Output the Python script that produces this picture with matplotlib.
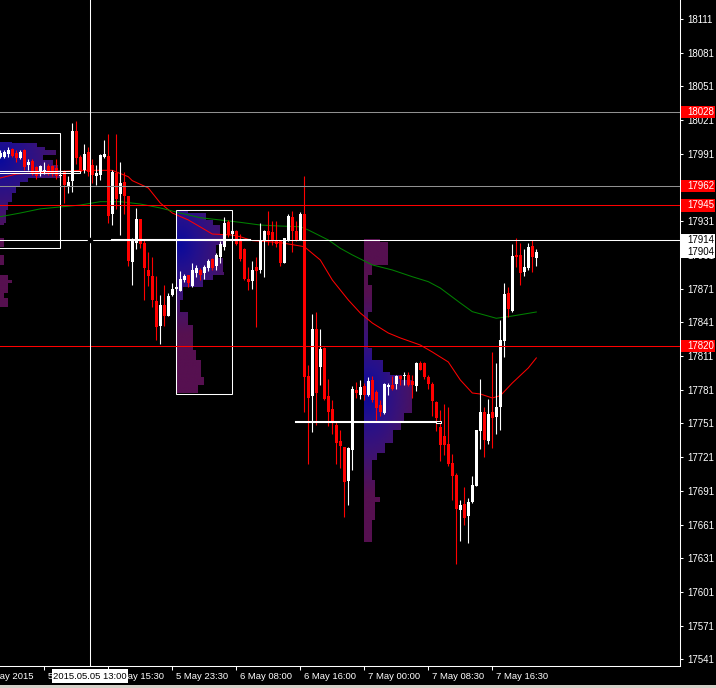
import matplotlib
matplotlib.use('Agg')
import matplotlib.pyplot as plt
import numpy as np
from matplotlib.patches import Rectangle, PathPatch
from matplotlib.path import Path
from matplotlib.colors import LinearSegmentedColormap

plt.rcParams['font.family'] = ['Liberation Sans', 'DejaVu Sans']

# 30 min candles, bar index 0 = first bar on screen
opens = [17988, 17988, 17991, 17995, 17992, 17987, 17994, 17981, 17985, 17979,
         17976, 17976, 17980, 17980, 17978, 17971, 17975, 17962, 17967, 18011,
         17988, 17977, 17993, 17981, 17971, 17972, 17988, 17989, 17937, 17974,
         17955, 17966, 17953, 17895, 17912, 17933, 17912, 17888, 17882, 17860,
         17838, 17856, 17847, 17865, 17871, 17869, 17879, 17883, 17873, 17885,
         17888, 17885, 17889, 17897, 17891, 17899, 17908, 17930, 17920, 17922,
         17913, 17906, 17880, 17878, 17890, 17888, 17913, 17922, 17921, 17914,
         17913, 17894, 17914, 17935, 17922, 17914, 17937, 17793, 17775, 17835,
         17801, 17818, 17775, 17764, 17750, 17735, 17730, 17700, 17727, 17781,
         17776, 17784, 17776, 17790, 17779, 17767, 17760, 17783, 17785, 17786,
         17793, 17793, 17794, 17789, 17784, 17805, 17805, 17792, 17786, 17770,
         17748, 17740, 17733, 17716, 17705, 17674, 17679, 17669, 17681, 17695,
         17744, 17761, 17735, 17761, 17757, 17766, 17824, 17867, 17851, 17901,
         17901, 17886, 17889, 17909, 17898]
highs = [17994, 17994, 17997, 17996, 17994, 17994, 17995, 17986, 17986, 17980,
         17981, 17984, 17982, 17981, 17986, 17977, 17977, 17971, 18018, 18020,
         17990, 18000, 17997, 17986, 17981, 17991, 18003, 18009, 17977, 18009,
         17984, 17975, 17953, 17916, 17943, 17933, 17914, 17904, 17899, 17882,
         17865, 17874, 17867, 17876, 17873, 17887, 17884, 17883, 17894, 17892,
         17889, 17892, 17897, 17898, 17903, 17913, 17935, 17932, 17924, 17923,
         17920, 17907, 17890, 17896, 17899, 17929, 17923, 17940, 17931, 17931,
         17914, 17916, 17937, 17940, 17931, 17939, 17971, 17803, 17848, 17850,
         17835, 17819, 17791, 17772, 17753, 17745, 17730, 17730, 17784, 17788,
         17790, 17787, 17792, 17793, 17781, 17772, 17787, 17787, 17793, 17794,
         17794, 17797, 17797, 17794, 17806, 17807, 17806, 17794, 17788, 17771,
         17763, 17768, 17766, 17724, 17707, 17683, 17694, 17685, 17704, 17745,
         17791, 17766, 17773, 17815, 17805, 17843, 17876, 17872, 17911, 17916,
         17912, 17906, 17912, 17914, 17906]
lows = [17987, 17987, 17988, 17988, 17984, 17986, 17977, 17977, 17972, 17969,
        17971, 17973, 17972, 17971, 17969, 17968, 17947, 17956, 17957, 17982,
        17974, 17974, 17971, 17965, 17963, 17968, 17987, 17929, 17928, 17942,
        17919, 17937, 17891, 17874, 17906, 17907, 17861, 17873, 17855, 17825,
        17822, 17838, 17847, 17864, 17870, 17869, 17877, 17872, 17872, 17881,
        17879, 17880, 17887, 17888, 17888, 17894, 17905, 17917, 17918, 17910,
        17896, 17879, 17870, 17871, 17837, 17885, 17881, 17910, 17910, 17908,
        17891, 17894, 17913, 17904, 17913, 17914, 17761, 17715, 17743, 17750,
        17785, 17772, 17749, 17742, 17715, 17711, 17668, 17678, 17710, 17774,
        17773, 17772, 17775, 17770, 17754, 17758, 17759, 17776, 17781, 17782,
        17785, 17785, 17784, 17774, 17780, 17799, 17791, 17782, 17758, 17744,
        17718, 17723, 17713, 17683, 17626, 17646, 17661, 17645, 17680, 17695,
        17728, 17721, 17733, 17729, 17742, 17745, 17810, 17846, 17850, 17890,
        17874, 17882, 17888, 17886, 17891]
closes = [17992, 17993, 17994, 17989, 17987, 17993, 17979, 17984, 17974, 17971,
          17980, 17977, 17974, 17973, 17971, 17972, 17963, 17966, 18011, 17987,
          17975, 17991, 17975, 17972, 17974, 17990, 17991, 17936, 17975, 17951,
          17965, 17953, 17896, 17915, 17933, 17911, 17889, 17882, 17861, 17837,
          17856, 17847, 17864, 17871, 17872, 17880, 17882, 17876, 17888, 17889,
          17883, 17890, 17896, 17889, 17901, 17911, 17929, 17919, 17922, 17911,
          17897, 17880, 17877, 17888, 17887, 17913, 17922, 17919, 17913, 17911,
          17894, 17916, 17936, 17922, 17913, 17937, 17792, 17774, 17835, 17778,
          17817, 17773, 17761, 17751, 17734, 17731, 17699, 17729, 17782, 17778,
          17783, 17776, 17789, 17772, 17765, 17761, 17786, 17785, 17782, 17793,
          17791, 17794, 17785, 17785, 17805, 17799, 17792, 17786, 17771, 17756,
          17732, 17732, 17715, 17704, 17675, 17678, 17667, 17681, 17696, 17745,
          17761, 17736, 17759, 17756, 17766, 17825, 17866, 17853, 17900, 17899,
          17885, 17890, 17908, 17899, 17904]

# moving averages (bar index, price)
red_ma_idx = [0, 4, 20, 24, 28, 32, 33, 37, 40, 43, 47, 50, 53, 58, 60, 63, 70, 76,
              80, 83, 87, 90, 93, 97, 100, 105, 108, 112, 115, 118, 120, 123, 125,
              128, 132, 134]
red_ma = [17969.5, 17973, 17976.3, 17976.3, 17976.3, 17970.6, 17967.1, 17960.6,
          17947.2, 17938.3, 17932.1, 17925.9, 17919.6, 17918.7, 17917.2, 17913.7,
          17912, 17908.3, 17896.5, 17878.7, 17860.9, 17849.3, 17840.4, 17831.5,
          17827.1, 17820.8, 17814.6, 17805.7, 17789.7, 17778.1, 17777.2, 17773.7,
          17775.7, 17787.0, 17800.4, 17809.3]
green_ma_idx = [0, 5, 10, 15, 20, 25, 30, 35, 40, 45, 50, 55, 60, 65, 70, 75, 77,
                82, 85, 88, 93, 98, 103, 107, 110, 115, 118, 122, 124, 128, 134]
green_ma = [17935, 17938.3, 17942, 17943.7, 17945.4, 17948.4, 17948.4, 17946.3,
            17942.8, 17938.3, 17934.1, 17932.1, 17930, 17927.6, 17926.7, 17926.1,
            17923.2, 17914.3, 17906.9, 17901, 17892.1, 17887.6, 17881.6, 17877.2,
            17871.5, 17858.2, 17850.5, 17846.6, 17844.6, 17846.6, 17850.2]

# volume profiles: left bar index, row edges (price), row widths (bars)
p1_left = -0.075
p1_edges = [18001.8, 18000.4, 17997.3, 17994.4, 17989.9, 17985.5, 17981.0, 17976.6,
            17969.2, 17966.2, 17961.7, 17955.8, 17948.4, 17941.0, 17929.1, 17927.6,
            17915.8, 17908.3, 17900.9, 17892.0, 17883.1, 17878.7, 17875.7, 17866.8,
            17862.4, 17854.9]
p1_widths = [3, 9.25, 11.25, 14, 10.75, 13.25, 14.5, 15, 7, 5, 4, 3, 2, 1.5, 1, 0,
             1, 0, 1, 0, 2, 3, 2, 1, 2]
p2_left = 44.0
p2_edges = [17940.4, 17938.0, 17932.1, 17927.6, 17918.7, 17909.8, 17898.3, 17886.1,
            17883.1, 17878.7, 17872.2, 17860.9, 17850.2, 17838.6, 17816.4, 17807.5,
            17792.3, 17785.2, 17778.1]
p2_widths = [3, 7.5, 9.25, 11, 11.75, 10, 11.75, 12, 9.25, 6.75, 1.75, 1, 2.9, 4.1,
             5, 6.25, 7, 5.5]
p3_left = 90.93
p3_edges = [17914.9, 17912.8, 17892.0, 17883.1, 17874.2, 17850.5, 17818.2, 17807.5,
            17797.1, 17794.1, 17789.7, 17767.4, 17760.3, 17752.7, 17745.2, 17733.6,
            17724.7, 17718.5, 17700.7, 17685.5, 17681.1, 17665.1, 17645.8]
p3_widths = [4, 6, 2, 1, 2, 1, 2, 4.75, 6.5, 9.5, 12, 12, 10, 9.25, 7.25, 5.25,
             3.25, 2, 2.75, 4, 2.75, 2]
# colour centre (bar, price) of each profile
p_centers = [(0, 17985), (45, 17910), (92, 17778)]
p_scales = [(20, 70), (16, 80), (14, 90)]

# value area boxes (bar from, bar to, price low, price high)
boxes = [(-2, 15.0, 17906.9, 18009.3), (44.0, 58.0, 17777.0, 17940.7)]

# horizontal levels
level_prices = [18028, 17962, 17945, 17820]
level_colors = ['#909090', '#909090', '#ff0000', '#ff0000']
hline_price = 17914
bid_price = 17904
price_ticks = list(range(17541, 18112, 30))

time_ticks = [-5, 11, 27, 43, 59, 75, 91, 107, 123]
time_labels = ['4 May 2015', '5 May 07:30', '5 May 15:30', '5 May 23:30', '6 May 08:00',
               '6 May 16:00', '7 May 00:00', '7 May 08:30', '7 May 16:30']
cross_bar = 22.4
cross_label = '2015.05.05 13:00'

vp_cmap = LinearSegmentedColormap.from_list(
    'vp', ['#0a0a9c', '#22108e', '#36127c', '#461266', '#561050'])

fig = plt.figure(figsize=(7.16, 6.88), dpi=100, facecolor='black')
ax = fig.add_axes([0, 22 / 688, 680 / 716, 666 / 688])
ax.set_facecolor('black')


def draw_profile(left, edges, widths, center, scale):
    verts, codes = [], []
    for top, bot, w in zip(edges[:-1], edges[1:], widths):
        if w <= 0:
            continue
        verts += [(left, bot), (left + w, bot), (left + w, top), (left, top), (left, bot)]
        codes += [Path.MOVETO, Path.LINETO, Path.LINETO, Path.LINETO, Path.CLOSEPOLY]
    clip = PathPatch(Path(verts, codes), transform=ax.transData, facecolor='none',
                     edgecolor='none')
    ax.add_patch(clip)
    kk = np.linspace(left, left + max(widths), 150)
    pp = np.linspace(min(edges), max(edges), 250)
    K, P = np.meshgrid(kk, pp)
    t = np.clip(np.hypot((K - center[0]) / scale[0], (P - center[1]) / scale[1]), 0, 1)
    img = ax.imshow(vp_cmap(t), extent=[kk[0], kk[-1], pp[0], pp[-1]], origin='lower',
                    aspect='auto', interpolation='bilinear', zorder=1)
    img.set_clip_path(clip)


draw_profile(p1_left, p1_edges, p1_widths, p_centers[0], p_scales[0])
draw_profile(p2_left, p2_edges, p2_widths, p_centers[1], p_scales[1])
draw_profile(p3_left, p3_edges, p3_widths, p_centers[2], p_scales[2])

for k0, k1, lo, hi in boxes:
    ax.add_patch(Rectangle((k0, lo), k1 - k0, hi - lo, fill=False, edgecolor='white',
                           linewidth=0.75, zorder=4))

# moving averages
ax.plot(red_ma_idx, red_ma, color='#ff0000', linewidth=0.75, zorder=2)
ax.plot(green_ma_idx, green_ma, color='#008000', linewidth=0.75, zorder=2)

# candles (one bar = 4 px, body 3 px, wick 1 px)
o = np.array(opens)
h = np.array(highs)
l = np.array(lows)
c = np.array(closes)
idx = np.arange(len(o))
cols = ['white' if cc >= oo else '#ff0000' for oo, cc in zip(o, c)]
ax.vlines(idx, l, h, colors=cols, linewidth=0.8, zorder=3)
ax.bar(idx, np.maximum(np.abs(c - o), 1.0), bottom=np.minimum(o, c), width=0.75,
       color=cols, linewidth=0, zorder=3)

# level lines
for price, col in zip(level_prices, level_colors):
    ax.axhline(price, color=col, linewidth=0.75, zorder=4)

# crosshair + horizontal line
ax.axhline(hline_price, color='white', linewidth=0.75, zorder=4)
ax.plot([27.9, 62.5], [hline_price, hline_price], color='white', linewidth=1.5, zorder=4)
ax.axvline(cross_bar, color='white', linewidth=0.75, zorder=4)
ax.plot(cross_bar, hline_price, 's', color='black', markersize=2.5, zorder=6)

# POC markers
ax.add_patch(Rectangle((-1, 17973.9), 20.9, 1.8, fill=False, edgecolor='white',
                       linewidth=0.75, zorder=4))
ax.plot([73.9, 109.0], [17752.3, 17752.3], color='white', linewidth=1.5, zorder=4)
ax.add_patch(Rectangle((108.9, 17751.0), 1.2, 2.6, facecolor='black', edgecolor='white',
                       linewidth=0.75, zorder=5))

ax.set_xlim(-0.075, (680 - 0.3) / 4)
ax.set_ylim(17535.1, 18127.9)

# axes styling
for side in ['top', 'left']:
    ax.spines[side].set_visible(False)
for side in ['right', 'bottom']:
    ax.spines[side].set_color('white')
    ax.spines[side].set_linewidth(0.75)

ax.yaxis.tick_right()
ax.set_yticks(price_ticks)
ax.set_yticklabels([str(p) for p in price_ticks])
ax.tick_params(axis='y', colors='white', length=2.5, width=0.75, pad=3, labelsize=7)

ax.set_xticks(time_ticks[1:])
ax.set_xticklabels([])
ax.tick_params(axis='x', colors='white', length=3, width=0.75)
for k, lab in zip(time_ticks, time_labels):
    ax.text(k + 1, -0.016, lab, transform=ax.get_xaxis_transform(), color='white',
            fontsize=6.8, ha='left', va='center', clip_on=False)

# crosshair time label
ax.add_patch(Rectangle((cross_bar - 9.5, -0.0255), 19, 0.021,
                       transform=ax.get_xaxis_transform(), facecolor='white',
                       edgecolor='none', clip_on=False, zorder=6))
ax.text(cross_bar, -0.0155, cross_label, transform=ax.get_xaxis_transform(), color='black',
        fontsize=6.8, ha='center', va='center', clip_on=False, zorder=7)

# price labels on right axis
ytr = ax.get_yaxis_transform()
for price in level_prices:
    ax.add_patch(Rectangle((1.0015, price - 5.4), 0.05, 10.8, transform=ytr,
                           facecolor='#ff0000', edgecolor='none', clip_on=False, zorder=6))
    ax.text(1.0105, price, str(price), transform=ytr, color='white', fontsize=7,
            ha='left', va='center', clip_on=False, zorder=7)
for price in [hline_price, bid_price]:
    ax.add_patch(Rectangle((1.0015, price - 5.4), 0.05, 10.8, transform=ytr,
                           facecolor='white', edgecolor='none', clip_on=False, zorder=6))
    ax.text(1.0105, price, str(price), transform=ytr, color='black', fontsize=7,
            ha='left', va='center', clip_on=False, zorder=7)

fig.patches.append(Rectangle((0, 0), 1, 3 / 688, transform=fig.transFigure,
                             facecolor='#d4d0c8', edgecolor='none'))

fig.savefig('out.png', dpi=100, facecolor='black')
